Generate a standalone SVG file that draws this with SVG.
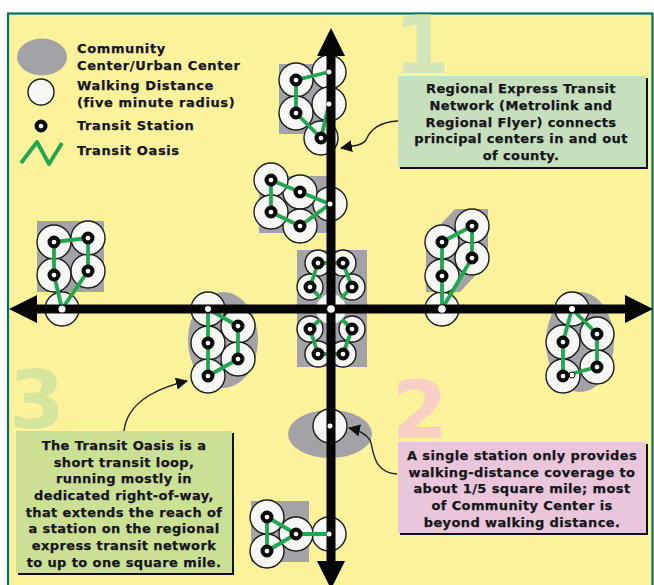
<svg xmlns="http://www.w3.org/2000/svg" width="654" height="585" viewBox="0 0 654 585">
<style>
.g{fill:#a3a2a6}
.w{fill:#f7f7f6;stroke:#1c1c1c;stroke-width:1.4}
.l{fill:none;stroke:#1fa84f;stroke-width:3.8;stroke-linejoin:round}
.s{fill:#fff;stroke:#0a0a0a;stroke-width:4.2}
.d{fill:#fff}
text{font-family:"DejaVu Sans","Liberation Sans",sans-serif;font-weight:700;fill:#16161a}
.t{font-size:13px;letter-spacing:.048em;stroke:#16161a;stroke-width:.25}
.c{font-size:13px;text-anchor:middle;letter-spacing:.03em;stroke:#16161a;stroke-width:.25}
.n{font-size:80px}
.sh{fill:#111}
.a{fill:none;stroke:#222;stroke-width:1.4}
</style>
<defs>
<circle id="w" r="17" class="w"/>
<circle id="ws" r="13" class="w"/>
<circle id="s" r="4.4" class="s"/>
<marker id="ax" markerUnits="userSpaceOnUse" markerWidth="30" markerHeight="30" refX="2" refY="15" orient="auto-start-reverse"><path d="M0 1L28 15L0 29Z" fill="#050505"/></marker>
<marker id="ca" markerUnits="userSpaceOnUse" markerWidth="14" markerHeight="14" refX="11" refY="6" orient="auto"><path d="M0 0L12 6L0 12Z" fill="#111"/></marker>
</defs>
<rect width="654" height="585" fill="#fff"/>
<rect x="8" y="13.500" width="644.500" height="590" fill="#fcf29b" stroke="#00706c" stroke-width="2.200"/>

<g id="numbers">
<text class="n" x="394" y="73" style="fill:#d4e5b8">1</text>
<text class="n" x="392" y="438" style="fill:#f8cfc4">2</text>
<text class="n" x="9" y="428" style="fill:#d6e59c">3</text>
</g>

<g id="legend">
<ellipse class="g" cx="42" cy="57" rx="25" ry="18.500"/>
<circle class="w" cx="41" cy="92" r="13"/>
<use href="#s" x="41" y="126"/>
<path class="l" d="M21 163L37 142L49 164L62 143"/>
<text class="t" x="77" y="53">Community</text>
<text class="t" x="77" y="70">Center/Urban Center</text>
<text class="t" x="77" y="90">Walking Distance</text>
<text class="t" x="77" y="107">(five minute radius)</text>
<text class="t" x="77" y="130">Transit Station</text>
<text class="t" x="77" y="155">Transit Oasis</text>
</g>

<g id="cluster-top">
<rect class="g" x="279" y="64" width="52" height="70"/>
<use href="#w" x="329" y="72"/><use href="#w" x="329" y="104"/><use href="#w" x="296" y="80"/><use href="#w" x="296" y="113"/><use href="#w" x="321" y="138"/>
<path class="l" d="M296 80L329 72M296 80V113L321 138L329 104"/>
<use href="#s" x="296" y="80"/><use href="#s" x="296" y="113"/><use href="#s" x="321" y="138"/>
</g>

<g id="cluster-upper-left">
<rect class="g" x="259" y="176" width="72" height="57"/>
<use href="#w" x="330" y="204"/><use href="#w" x="300" y="192"/><use href="#w" x="300" y="226"/><use href="#w" x="271" y="180"/><use href="#w" x="271" y="212"/>
<path class="l" d="M271 180L300 192L330 204L300 226L271 212Z"/>
<use href="#s" x="271" y="180"/><use href="#s" x="300" y="192"/><use href="#s" x="271" y="212"/><use href="#s" x="300" y="226"/>
</g>

<g id="cluster-left">
<rect class="g" x="37" y="221" width="67" height="71"/>
<use href="#w" x="62" y="309"/><use href="#w" x="54" y="275"/><use href="#w" x="88" y="271"/><use href="#w" x="54" y="242"/><use href="#w" x="88" y="238"/>
<path class="l" d="M62 309L54 275V242L88 238V271L62 309"/>
<use href="#s" x="54" y="242"/><use href="#s" x="88" y="238"/><use href="#s" x="54" y="275"/><use href="#s" x="88" y="271"/>
</g>

<g id="cluster-lower-left">
<ellipse class="g" cx="223" cy="340" rx="35" ry="48"/>
<use href="#w" x="208" y="309"/><use href="#w" x="238" y="326"/><use href="#w" x="208" y="343"/><use href="#w" x="238" y="359"/><use href="#w" x="208" y="376"/>
<path class="l" d="M208 309L238 326V359L208 376V309"/>
<use href="#s" x="238" y="326"/><use href="#s" x="208" y="343"/><use href="#s" x="238" y="359"/><use href="#s" x="208" y="376"/>
</g>

<g id="cluster-center">
<rect class="g" x="297" y="250" width="70" height="117"/>
<use href="#ws" x="318" y="263"/><use href="#ws" x="343" y="263"/><use href="#ws" x="310" y="287"/><use href="#ws" x="352" y="287"/><use href="#ws" x="310" y="329"/><use href="#ws" x="352" y="329"/><use href="#ws" x="318" y="354"/><use href="#ws" x="343" y="354"/>
<path class="l" d="M318 263H343L352 287L331 309L352 329L343 354H318L310 329L331 309L310 287Z"/>
<circle class="w" cx="331" cy="309" r="15" style="stroke:none"/>
<use href="#s" x="318" y="263"/><use href="#s" x="343" y="263"/><use href="#s" x="310" y="287"/><use href="#s" x="352" y="287"/><use href="#s" x="310" y="329"/><use href="#s" x="352" y="329"/><use href="#s" x="318" y="354"/><use href="#s" x="343" y="354"/>
</g>

<g id="cluster-upper-right">
<path class="g" d="M426 240L455 209H488V262L460 292H426Z"/>
<use href="#w" x="442" y="309"/><use href="#w" x="442" y="276"/><use href="#w" x="472" y="258"/><use href="#w" x="442" y="242"/><use href="#w" x="472" y="226"/>
<path class="l" d="M442 309V242L472 226V258L442 309"/>
<use href="#s" x="442" y="242"/><use href="#s" x="472" y="226"/><use href="#s" x="472" y="258"/><use href="#s" x="442" y="276"/>
</g>

<g id="cluster-right">
<ellipse class="g" cx="580" cy="342" rx="34" ry="50"/>
<use href="#w" x="572" y="309"/><use href="#w" x="597" y="334"/><use href="#w" x="563" y="342"/><use href="#w" x="597" y="367"/><use href="#w" x="563" y="376"/>
<path class="l" d="M572 309L597 334V367L563 376V342L572 309"/>
<circle cx="572" cy="375" r="3" fill="#fff" stroke="#111" stroke-width="1"/>
<use href="#s" x="597" y="334"/><use href="#s" x="563" y="342"/><use href="#s" x="597" y="367"/><use href="#s" x="563" y="376"/>
</g>

<g id="cluster-single">
<ellipse class="g" cx="330" cy="434" rx="42" ry="24"/>
<use href="#w" x="330" y="426"/>
</g>

<g id="cluster-bottom">
<rect class="g" x="251" y="501" width="58" height="61"/>
<use href="#w" x="329" y="534"/><use href="#w" x="296" y="534"/><use href="#w" x="267" y="517"/><use href="#w" x="267" y="551"/>
<path class="l" d="M329 534H296L267 517V551L296 534"/>
<use href="#s" x="267" y="517"/><use href="#s" x="296" y="534"/><use href="#s" x="267" y="551"/>
</g>

<g id="connectors">
<line x1="331" y1="54" x2="331" y2="562" stroke="#050505" stroke-width="9" marker-start="url(#ax)"/>
<line x1="331" y1="562" x2="331" y2="563" stroke="#050505" stroke-width="9" marker-end="url(#ax)"/>
<line x1="35" y1="309" x2="627" y2="309" stroke="#050505" stroke-width="9" marker-start="url(#ax)" marker-end="url(#ax)"/>
<path class="a" d="M398 121C378 122 370 130 366 140C362 146 352 146 341 148" marker-end="url(#ca)"/>
<path class="a" d="M124 431C127 405 150 390 187 381" marker-end="url(#ca)"/>
<path class="a" d="M397 474C372 472 374 450 370 440C366 434 358 430 349 428" marker-end="url(#ca)"/>
</g>

<g id="axis-stations">
<circle class="d" cx="329" cy="72" r="2.500"/><circle class="d" cx="329" cy="104" r="2.500"/><circle class="d" cx="330" cy="204" r="2.500"/>
<circle class="d" cx="62" cy="309" r="3.500"/><circle class="d" cx="208" cy="309" r="3"/><circle class="d" cx="331" cy="309" r="3.800"/><circle class="d" cx="442" cy="309" r="3.800"/><circle class="d" cx="572" cy="309" r="3"/>
<circle class="d" cx="330" cy="426" r="2.500"/><circle class="d" cx="329" cy="534" r="2.500"/>
</g>

<g id="box-1">
<rect class="sh" x="400" y="78" width="248" height="91"/>
<rect x="398" y="76" width="248" height="91" fill="#c6e0bd"/>
<text class="c" x="521" y="93">Regional Express Transit</text>
<text class="c" x="521" y="110">Network (Metrolink and</text>
<text class="c" x="521" y="127">Regional Flyer) connects</text>
<text class="c" x="521" y="143">principal centers in and out</text>
<text class="c" x="521" y="160">of county.</text>
</g>
<g id="box-2">
<rect class="sh" x="400" y="444" width="248" height="91"/>
<rect x="398" y="442" width="248" height="91" fill="#e9c6da"/>
<text class="c" x="522" y="460">A single station only provides</text>
<text class="c" x="522" y="477">walking-distance coverage to</text>
<text class="c" x="522" y="493">about 1/5 square mile; most</text>
<text class="c" x="522" y="510">of Community Center is</text>
<text class="c" x="522" y="527">beyond walking distance.</text>
</g>
<g id="box-3">
<rect class="sh" x="18" y="433" width="216" height="142"/>
<rect x="16" y="431" width="216" height="142" fill="#cbe094"/>
<text class="c" x="124" y="450">The Transit Oasis is a</text>
<text class="c" x="124" y="467">short transit loop,</text>
<text class="c" x="124" y="483">running mostly in</text>
<text class="c" x="124" y="500">dedicated right-of-way,</text>
<text class="c" x="124" y="517">that extends the reach of</text>
<text class="c" x="124" y="533">a station on the regional</text>
<text class="c" x="124" y="550">express transit network</text>
<text class="c" x="124" y="567">to up to one square mile.</text>
</g>
</svg>
